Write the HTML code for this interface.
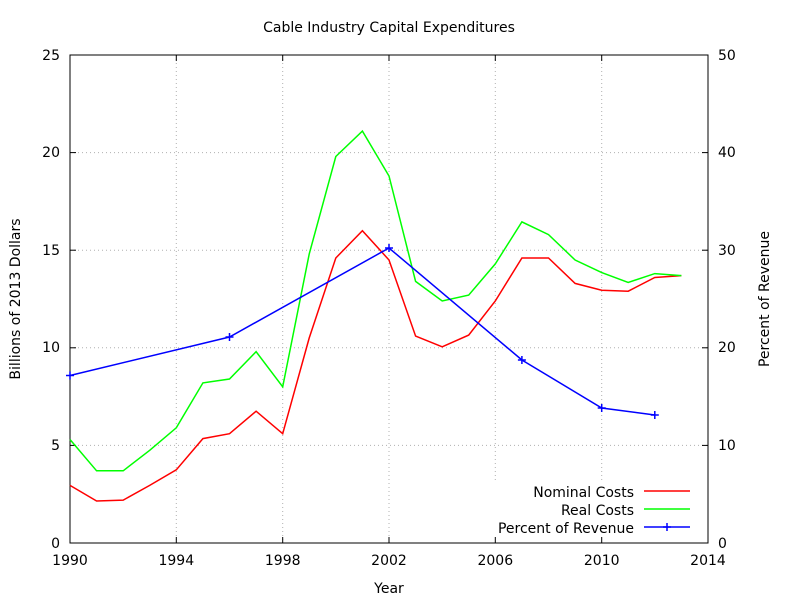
<!DOCTYPE html>
<html><head><style>body{margin:0;background:#fff}svg text{font-family:"DejaVu Sans","Liberation Sans",sans-serif;font-size:14px;fill:#000}</style></head>
<body><svg width="800" height="600" xmlns="http://www.w3.org/2000/svg">
<g stroke="#b0b0b0" stroke-width="1" stroke-dasharray="1,3">
<line x1="70" y1="445.4" x2="708" y2="445.4"/><line x1="70" y1="347.8" x2="708" y2="347.8"/><line x1="70" y1="250.2" x2="708" y2="250.2"/><line x1="70" y1="152.6" x2="708" y2="152.6"/>
<line x1="176.3" y1="55" x2="176.3" y2="543"/><line x1="282.7" y1="55" x2="282.7" y2="543"/><line x1="389" y1="55" x2="389" y2="543"/><line x1="495.3" y1="55" x2="495.3" y2="543"/><line x1="601.7" y1="55" x2="601.7" y2="543"/>
</g>
<rect x="486" y="483" width="221" height="59" fill="#fff"/>
<rect x="70" y="55" width="638" height="488" fill="none" stroke="#000"/>
<g stroke="#000">
<line x1="70" y1="445.4" x2="76" y2="445.4"/><line x1="70" y1="347.8" x2="76" y2="347.8"/><line x1="70" y1="250.2" x2="76" y2="250.2"/><line x1="70" y1="152.6" x2="76" y2="152.6"/>
<line x1="708" y1="445.4" x2="702" y2="445.4"/><line x1="708" y1="347.8" x2="702" y2="347.8"/><line x1="708" y1="250.2" x2="702" y2="250.2"/><line x1="708" y1="152.6" x2="702" y2="152.6"/>
<line x1="176.3" y1="543" x2="176.3" y2="537"/><line x1="282.7" y1="543" x2="282.7" y2="537"/><line x1="389" y1="543" x2="389" y2="537"/><line x1="495.3" y1="543" x2="495.3" y2="537"/><line x1="601.7" y1="543" x2="601.7" y2="537"/>
<line x1="176.3" y1="55" x2="176.3" y2="61"/><line x1="282.7" y1="55" x2="282.7" y2="61"/><line x1="389" y1="55" x2="389" y2="61"/><line x1="495.3" y1="55" x2="495.3" y2="61"/><line x1="601.7" y1="55" x2="601.7" y2="61"/>
</g>
<g text-anchor="end">
<text x="60" y="548">0</text><text x="60" y="450">5</text><text x="60" y="352">10</text><text x="60" y="255">15</text><text x="60" y="157">20</text><text x="60" y="60">25</text>
</g>
<g text-anchor="start">
<text x="718" y="548">0</text><text x="718" y="450">10</text><text x="718" y="352">20</text><text x="718" y="255">30</text><text x="718" y="157">40</text><text x="718" y="60">50</text>
</g>
<g text-anchor="middle">
<text x="70" y="565">1990</text><text x="176.3" y="565">1994</text><text x="282.7" y="565">1998</text><text x="389" y="565">2002</text><text x="495.3" y="565">2006</text><text x="601.7" y="565">2010</text><text x="708" y="565">2014</text>
<text x="389" y="593">Year</text>
<text x="389" y="32">Cable Industry Capital Expenditures</text>
<text transform="translate(20,299) rotate(-90)">Billions of 2013 Dollars</text>
<text transform="translate(769,299) rotate(-90)">Percent of Revenue</text>
</g>
<polyline fill="none" stroke="#ff0000" stroke-width="1.5" points="70,485.4 96.6,501 123.2,500.1 149.7,485.4 176.3,469.8 202.9,438.6 229.5,433.7 256.1,411.2 282.7,433.7 309.2,338 335.8,258 362.4,230.7 389,260 415.6,336.1 442.2,346.8 468.7,335.1 495.3,301 521.9,258 548.5,258 575.1,283.4 601.7,290.2 628.2,291.2 654.8,277.5 681.4,275.6"/>
<polyline fill="none" stroke="#00ff00" stroke-width="1.5" points="70,439.5 96.6,470.8 123.2,470.8 149.7,450.3 176.3,427.8 202.9,382.9 229.5,379 256.1,351.7 282.7,386.8 309.2,254.1 335.8,156.5 362.4,131.1 389,176 415.6,281.4 442.2,301 468.7,295.1 495.3,263.9 521.9,221.9 548.5,234.6 575.1,260 601.7,272.6 628.2,282.4 654.8,273.6 681.4,275.6"/>
<polyline fill="none" stroke="#0000ff" stroke-width="1.5" points="70,375.5 229.5,337 389,248 521.9,360 601.7,408 654.8,415"/>
<g stroke="#0000ff" stroke-width="1.5">
<path d="M66,375.5h8M70,371.5v8M225.5,337h8M229.5,333v8M385,248h8M389,244v8M517.9,360h8M521.9,356v8M597.7,408h8M601.7,404v8M650.8,415h8M654.8,411v8"/>
</g>
<g text-anchor="end">
<text x="634" y="497">Nominal Costs</text><text x="634" y="515">Real Costs</text><text x="634" y="533">Percent of Revenue</text>
</g>
<line x1="644" y1="491" x2="690" y2="491" stroke="#ff0000" stroke-width="1.5"/>
<line x1="644" y1="509" x2="690" y2="509" stroke="#00ff00" stroke-width="1.5"/>
<line x1="644" y1="527" x2="690" y2="527" stroke="#0000ff" stroke-width="1.5"/>
<path d="M663,527h8M667,523v8" stroke="#0000ff" stroke-width="1.5"/>
</svg></body></html>
